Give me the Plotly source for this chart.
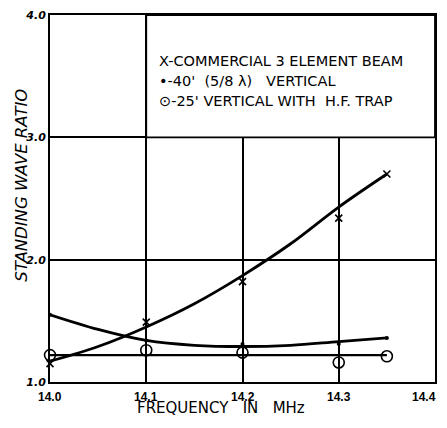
import plotly.graph_objects as go

# ---- data ----
freq_pts = [14.0, 14.1, 14.2, 14.3, 14.35]
beam_pts = [1.15, 1.49, 1.82, 2.34, 2.70]
vert40_pts = [1.55, 1.34, 1.31, 1.31, 1.36]
vert25_pts = [1.22, 1.26, 1.24, 1.16, 1.21]

curve_freq = [14.0, 14.05, 14.1, 14.15, 14.2, 14.25, 14.3, 14.35]
beam_curve = [1.17, 1.29, 1.45, 1.64, 1.87, 2.13, 2.43, 2.70]
vert40_curve = [1.55, 1.43, 1.34, 1.30, 1.29, 1.30, 1.33, 1.36]
vert25_line_freq = [14.0, 14.35]
vert25_line = [1.22, 1.22]

x_ticks = [14.0, 14.1, 14.2, 14.3, 14.4]
x_labels = ["14.0", "14.1", "14.2", "14.3", "14.4"]
y_ticks = [1.0, 2.0, 3.0, 4.0]
y_labels = ["1.0", "2.0", "3.0", "4.0"]

NB = "\u00a0"
legend_lines = [
    "X-COMMERCIAL 3 ELEMENT" + NB + "BEAM",
    "•-40'" + NB + NB + "(5/8" + NB + "λ)" + NB + NB + NB + "VERTICAL",
    "⊙-25' VERTICAL WITH" + NB + NB + "H.F." + NB + "TRAP",
]
legend_y = [3.62, 3.46, 3.30]
x_title = "FREQUENCY" + NB * 3 + "IN" + NB * 3 + "MHz"
y_title = "STANDING WAVE RATIO"

FONT = "DejaVu Sans"
TICKFONT = "Liberation Sans"
fig = go.Figure()

fig.add_trace(go.Scatter(x=curve_freq, y=beam_curve, mode="lines",
                         line=dict(color="black", width=2.8, shape="spline"),
                         showlegend=False))
fig.add_trace(go.Scatter(x=curve_freq, y=vert40_curve, mode="lines",
                         line=dict(color="black", width=2.8, shape="spline"),
                         showlegend=False))
fig.add_trace(go.Scatter(x=vert25_line_freq, y=vert25_line, mode="lines",
                         line=dict(color="black", width=2.2),
                         showlegend=False))
fig.add_trace(go.Scatter(x=freq_pts, y=beam_pts, mode="markers", cliponaxis=False,
                         marker=dict(symbol="x-thin", size=7, color="black",
                                     line=dict(color="black", width=1.6)),
                         showlegend=False))
fig.add_trace(go.Scatter(x=freq_pts, y=vert40_pts, mode="markers", cliponaxis=False,
                         marker=dict(symbol="circle", size=4, color="black"),
                         showlegend=False))
fig.add_trace(go.Scatter(x=freq_pts, y=vert25_pts, mode="markers", cliponaxis=False,
                         marker=dict(symbol="circle-open", size=11, color="black",
                                     line=dict(color="black", width=1.6)),
                         showlegend=False))

# legend box (covers gridlines in the upper right)
fig.add_shape(type="rect", x0=14.1, x1=14.4, y0=3.0, y1=4.0,
              xref="x", yref="y", layer="above",
              fillcolor="white", line=dict(color="black", width=1.8))

for txt, yy in zip(legend_lines, legend_y):
    fig.add_annotation(x=14.111, y=yy, xref="x", yref="y",
                       text=txt, showarrow=False, xanchor="left", yanchor="middle",
                       font=dict(family=FONT, size=14.5, color="black"))

# x tick labels (the last one is kept inside the page edge)
for i, (tv, tl) in enumerate(zip(x_ticks, x_labels)):
    last = i == len(x_ticks) - 1
    fig.add_annotation(x=tv, y=0.0, xref="x", yref="paper", yshift=-6,
                       xshift=3 if last else 0,
                       text="<b>" + tl + "</b>", showarrow=False,
                       xanchor="right" if last else "center", yanchor="top",
                       font=dict(family=TICKFONT, size=12, color="black"))

# axis titles
fig.add_annotation(x=0.445, y=0.0, xref="paper", yref="paper", yshift=-37,
                   text=x_title, showarrow=False,
                   xanchor="center", yanchor="bottom",
                   font=dict(family=FONT, size=15, color="black"))
fig.add_annotation(x=0.0, y=0.535, xref="paper", yref="paper", xshift=-28,
                   text="<i>" + y_title + "</i>", showarrow=False, textangle=-90,
                   xanchor="center", yanchor="middle",
                   font=dict(family=FONT, size=16.5, color="black"))

fig.update_xaxes(range=[14.0, 14.4], tickvals=x_ticks, showticklabels=False,
                 showgrid=True, gridcolor="black", gridwidth=1.5,
                 showline=True, linecolor="black", linewidth=2, mirror=True,
                 ticks="", zeroline=False, automargin=False)
fig.update_yaxes(range=[1.0, 4.0], tickvals=y_ticks,
                 ticktext=["<i><b>" + t + "</b></i>" for t in y_labels],
                 showgrid=True, gridcolor="black", gridwidth=1.5,
                 showline=True, linecolor="black", linewidth=2, mirror=True,
                 ticks="", zeroline=False, automargin=False,
                 ticklabeloverflow="allow",
                 tickfont=dict(family=FONT, size=11, color="black"))

# the page body has an 8px margin on every side; size the figure so the page
# never overflows the 447x428 window (no scrollbars)
fig.update_layout(width=431, height=412,
                  margin=dict(l=42, r=4, t=7, b=38),
                  plot_bgcolor="white", paper_bgcolor="white",
                  showlegend=False)

fig.write_html("out.html")
